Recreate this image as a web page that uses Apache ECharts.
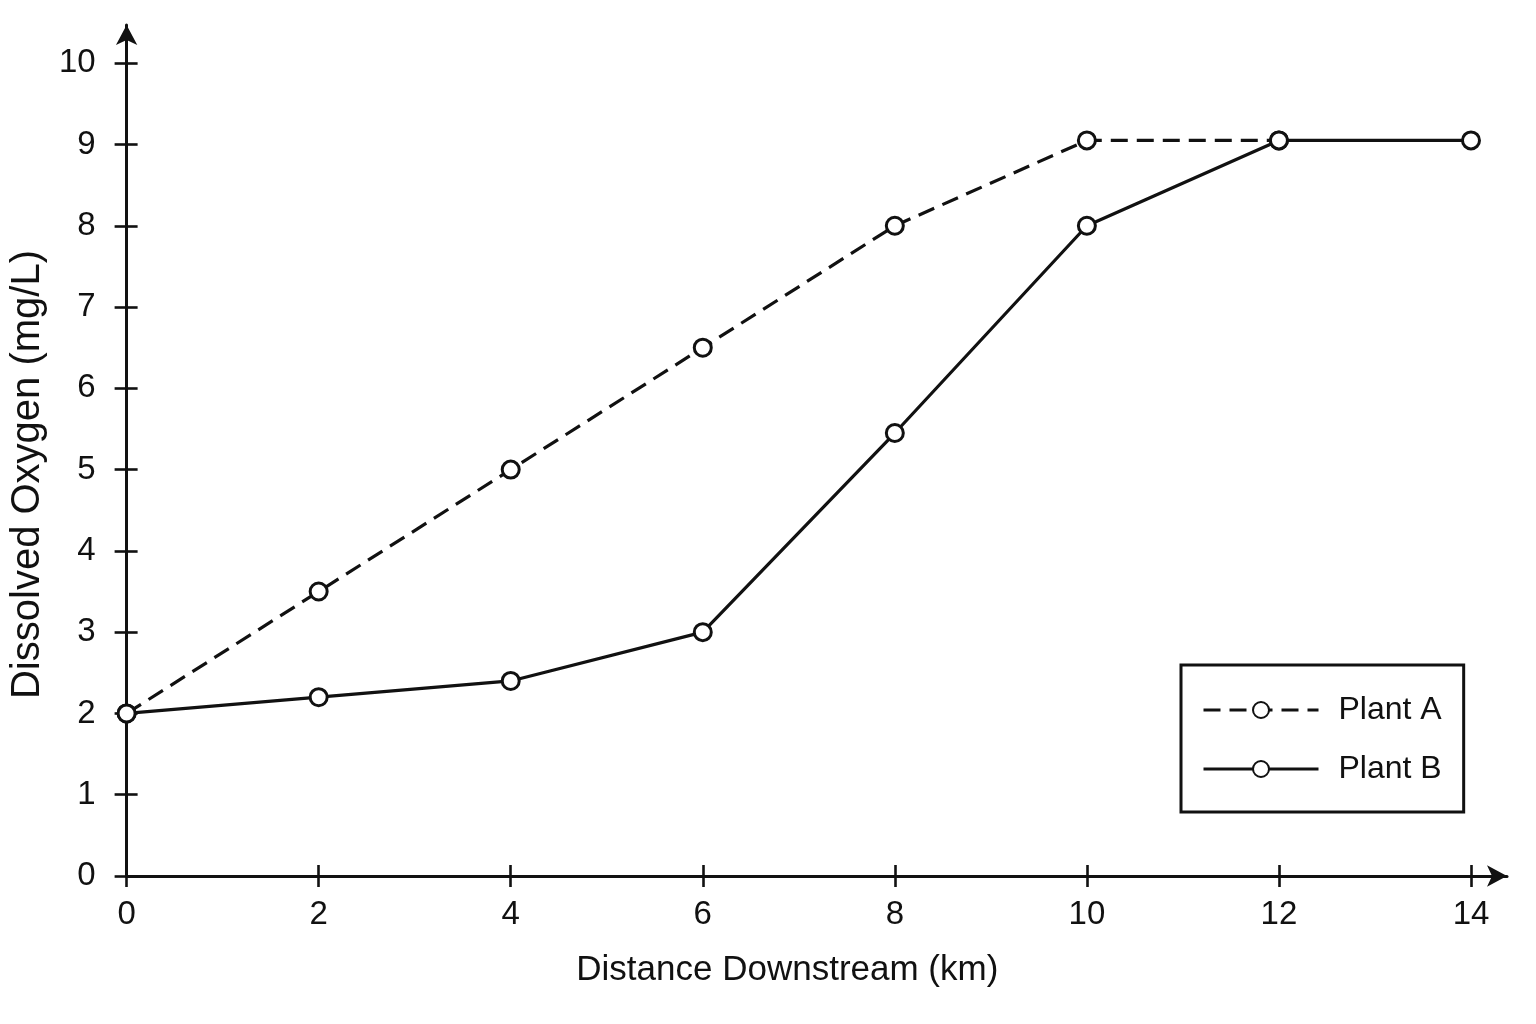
<!DOCTYPE html>
<html>
<head>
<meta charset="utf-8">
<script src="https://cdn.jsdelivr.net/npm/echarts@6/dist/echarts.min.js"></script>
<style>
html,body{margin:0;padding:0;background:#fff;}
#chart{width:1536px;height:1024px;}
</style>
</head>
<body>
<div id="chart"></div>
<script>
// ---- data ----
const distanceKm = [0, 2, 4, 6, 8, 10, 12, 14];
const plantA = [2, 3.5, 5, 6.5, 8, 9.05, 9.05];
const plantB = [2, 2.2, 2.4, 3, 5.45, 8, 9.05, 9.05];
const xTickValues = [0, 2, 4, 6, 8, 10, 12, 14];
const yTickValues = [0, 1, 2, 3, 4, 5, 6, 7, 8, 9, 10];
const seriesNames = ['Plant A', 'Plant B'];
const xTitle = 'Distance Downstream (km)';
const yTitle = 'Dissolved Oxygen (mg/L)';

// ---- layout / style ----
const FONT = '"Liberation Sans", Arial, Helvetica, sans-serif';
const INK = '#111';
const X_MAX = 14.375;   // axis line extends past last tick to hold the arrow
const Y_MAX = 10.47;

const pairs = (ys) => ys.map((y, i) => [distanceKm[i], y]);

const chart = echarts.init(document.getElementById('chart'), null, {renderer: 'canvas'});

const tickStyle = {color: INK, width: 2.6};
const labelStyle = {color: INK, fontFamily: FONT, fontSize: 33};

const option = {
  backgroundColor: '#fff',
  animation: false,
  grid: {left: 124, top: 25, right: 29, bottom: 148},
  legend: {
    data: seriesNames,
    left: 1181, top: 665,
    orient: 'vertical',
    backgroundColor: '#fff',
    borderColor: INK, borderWidth: 3, borderRadius: 0,
    padding: [29, 22, 27, 21],
    itemGap: 27,
    itemWidth: 115, itemHeight: 20,
    lineStyle: {width: 3},
    textStyle: {color: INK, fontFamily: FONT, fontSize: 32, padding: [0, 0, 0, 15]}
  },
  xAxis: [{
    type: 'value', position: 'bottom', min: 0, max: X_MAX,
    name: xTitle, nameLocation: 'middle', nameGap: 77,
    nameTextStyle: {color: INK, fontFamily: FONT, fontSize: 35, padding: [0, 59, 0, 0]},
    axisLine: {show: true, onZero: false, symbol: ['none', 'arrow'], symbolSize: [16, 20],
               lineStyle: {color: INK, width: 3}},
    axisTick: {show: true, inside: false, length: 11, lineStyle: tickStyle, customValues: xTickValues},
    axisLabel: Object.assign({margin: 22, customValues: xTickValues}, labelStyle),
    splitLine: {show: false}
  }, {
    type: 'value', position: 'top', min: 0, max: X_MAX,
    axisLine: {show: false, onZero: true, onZeroAxisIndex: 0},
    axisTick: {show: true, inside: false, length: 11, lineStyle: tickStyle, customValues: xTickValues},
    axisLabel: {show: false},
    splitLine: {show: false}
  }],
  yAxis: [{
    type: 'value', position: 'left', min: 0, max: Y_MAX,
    name: yTitle, nameLocation: 'middle', nameGap: 68,
    nameTextStyle: {color: INK, fontFamily: FONT, fontSize: 40, padding: [0, 48, 0, 0]},
    axisLine: {show: true, onZero: false, symbol: ['none', 'arrow'], symbolSize: [16, 20],
               lineStyle: {color: INK, width: 3}},
    axisTick: {show: true, inside: false, length: 12, lineStyle: tickStyle, customValues: yTickValues},
    axisLabel: Object.assign({margin: 31, customValues: yTickValues}, labelStyle),
    splitLine: {show: false}
  }, {
    type: 'value', position: 'right', min: 0, max: Y_MAX,
    axisLine: {show: false, onZero: true, onZeroAxisIndex: 0},
    axisTick: {show: true, inside: false, length: 11, lineStyle: tickStyle, customValues: yTickValues},
    axisLabel: {show: false},
    splitLine: {show: false}
  }],
  series: [{
    name: seriesNames[0], type: 'line', xAxisIndex: 0, yAxisIndex: 0,
    data: pairs(plantA), z: 2,
    symbol: 'circle', symbolSize: 17, showAllSymbol: true,
    lineStyle: {color: INK, width: 3.2, type: [17, 9]},
    itemStyle: {color: '#fff', borderColor: INK, borderWidth: 3}
  }, {
    name: seriesNames[1], type: 'line', xAxisIndex: 0, yAxisIndex: 0,
    data: pairs(plantB), z: 3,
    symbol: 'circle', symbolSize: 17, showAllSymbol: true,
    lineStyle: {color: INK, width: 3.2, type: 'solid'},
    itemStyle: {color: '#fff', borderColor: INK, borderWidth: 3}
  }]
};
chart.setOption(option);
</script>
</body>
</html>
